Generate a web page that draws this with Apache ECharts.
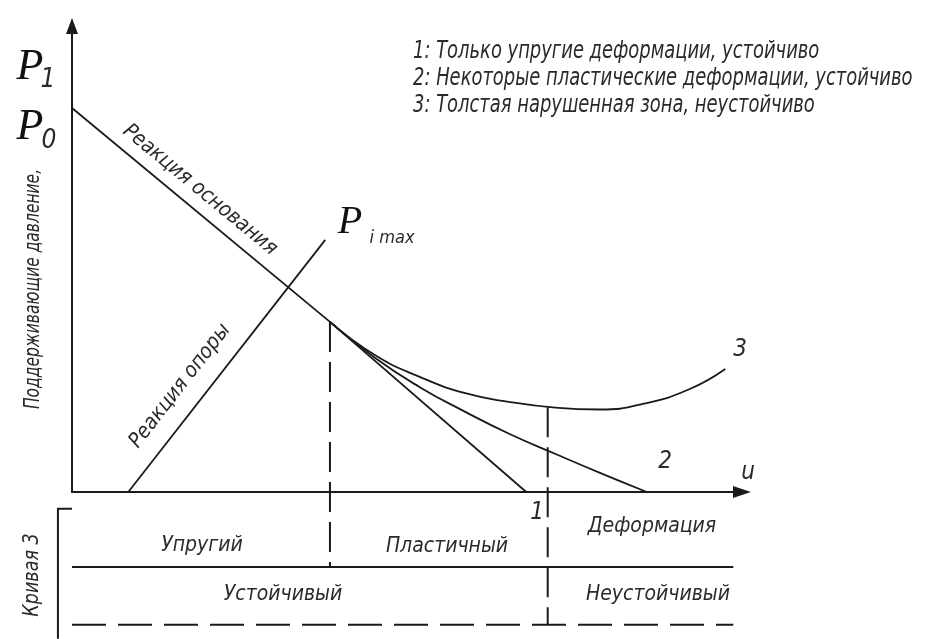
<!DOCTYPE html>
<html>
<head>
<meta charset="utf-8">
<script src="https://cdn.jsdelivr.net/npm/echarts@6/dist/echarts.min.js"></script>
<style>html,body{margin:0;padding:0;background:#fff}#c{width:938px;height:639px}</style>
</head>
<body>
<div id="c"></div>
<script>
// ---- data (schematic units: u along x 0..100, pressure along y 0..100) ----
const baseReaction = [[0, 82.4], [38.5, 36.5]];
const supportReaction = [[8.4, 0], [37.8, 54.1]];
const curve1 = [[38.5, 36.5], [67.8, 0]];
const curve2 = [[38.5, 36.5], [45.2, 28.8], [51.9, 22.5], [58.7, 17.2], [65.4, 12.4], [72.1, 8.2], [78.8, 4.1], [85.8, 0]];
const curve3 = [[38.5, 36.5], [45.2, 29.4], [51.9, 24.7], [58.7, 21.2], [65.4, 19.3], [72.1, 18.1], [78.8, 17.7], [85.5, 19.0], [92.2, 22.1], [97.5, 26.4]];
const plasticStart = [[38.5, 36.5], [38.5, -16.1]];
const unstableStart = [[71.0, 18.2], [71.0, -28.5]];
const zoneLine = [[0, -16.1], [98.7, -16.1]];
const stabilityLine = [[0, -28.5], [98.7, -28.5]];
const bracket = [[0, -3.6], [-2.1, -3.6], [-2.1, -31.5]];

const legendLines = [
  '1: Только упругие деформации, устойчиво',
  '2: Некоторые пластические деформации, устойчиво',
  '3: Толстая нарушенная зона, неустойчиво'
];

const INK = '#1a1a1a';
const TXT = '#2a2a2a';
const GOST = "'Liberation Sans Narrow','DejaVu Sans Condensed','Liberation Sans',sans-serif";
const SERIF = "'Liberation Serif','DejaVu Serif',serif";

function lineSeries(data, opts) {
  return Object.assign({
    type: 'line', data: data, symbol: 'none', clip: false, silent: true,
    lineStyle: { color: INK, width: 1.8 }
  }, opts || {});
}

const chart = echarts.init(document.getElementById('c'), null, { renderer: 'canvas' });

function t(text, x, y, size, extra) {
  extra = extra || {};
  const el = {
    type: 'text', x: x, y: y, silent: true,
    style: Object.assign({
      text: text, fill: TXT, font: 'italic ' + size + 'px ' + GOST,
      align: 'center', verticalAlign: 'middle'
    }, extra.style || {})
  };
  if (extra.rotation !== undefined) el.rotation = extra.rotation;
  if (extra.scaleX !== undefined) el.scaleX = extra.scaleX;
  return el;
}
function bigP(x, y, size) {
  return { type: 'text', x: x, y: y, silent: true,
    style: { text: 'P', font: 'italic ' + size + 'px ' + SERIF, fill: '#111', align: 'center', verticalAlign: 'middle' } };
}

const graphics = [
  // legend
  t(legendLines[0], 413, 52, 24, { style: { align: 'left' }, scaleX: 0.83 }),
  t(legendLines[1], 413, 79, 24, { style: { align: 'left' }, scaleX: 0.83 }),
  t(legendLines[2], 413, 106, 24, { style: { align: 'left' }, scaleX: 0.83 }),
  // P labels
  bigP(30, 67, 44), t('1', 48, 80, 26),
  bigP(30, 127, 44), t('0', 49, 141, 26),
  bigP(350, 222, 40), t('i max', 392, 238, 18),
  // axis titles
  t('Поддерживающие давление,', 34, 289, 21, { rotation: Math.PI / 2, scaleX: 0.82 }),
  t('Кривая 3', 33, 575, 21, { rotation: Math.PI / 2, scaleX: 0.93 }),
  // line labels
  t('Реакция основания', 200, 190, 21, { rotation: -0.69 }),
  t('Реакция опоры', 180, 386, 21, { rotation: 0.91 }),
  // curve numbers
  t('1', 537, 513, 24),
  t('2', 665, 462, 24),
  t('3', 740, 350, 24),
  t('u', 748, 473, 24),
  // zones
  t('Упругий', 202, 546, 21),
  t('Пластичный', 447, 547, 21),
  t('Деформация', 652, 527, 21),
  t('Устойчивый', 283, 595, 21),
  t('Неустойчивый', 658, 595, 21)
];

chart.setOption({
  animation: false,
  backgroundColor: '#fff',
  grid: { left: 72, right: 196, top: 26, bottom: 147, containLabel: false },
  xAxis: {
    type: 'value', min: 0, max: 100,
    axisLine: { show: true, onZero: false, symbol: ['none', 'triangle'], symbolSize: [12, 18], lineStyle: { color: INK, width: 2 } },
    axisTick: { show: false }, axisLabel: { show: false }, splitLine: { show: false }
  },
  yAxis: {
    type: 'value', min: 0, max: 100,
    axisLine: { show: true, onZero: false, symbol: ['none', 'triangle'], symbolSize: [12, 16], lineStyle: { color: INK, width: 2 } },
    axisTick: { show: false }, axisLabel: { show: false }, splitLine: { show: false }
  },
  series: [
    lineSeries(baseReaction),
    lineSeries(supportReaction),
    lineSeries(curve1),
    lineSeries(curve2, { smooth: 0.5 }),
    lineSeries(curve3, { smooth: 0.5 }),
    lineSeries(plasticStart, { lineStyle: { color: INK, width: 2, type: [30, 10] } }),
    lineSeries(unstableStart, { lineStyle: { color: INK, width: 2, type: [30, 10] } }),
    lineSeries(zoneLine, { lineStyle: { color: INK, width: 2 } }),
    lineSeries(stabilityLine, { lineStyle: { color: INK, width: 2, type: [34, 12] } })
  ],
  graphic: graphics
});

// bracket "Кривая 3" drawn through the grid's own coordinate conversion
const bracketPts = bracket.map(function (p) { return chart.convertToPixel({ gridIndex: 0 }, p); });
chart.setOption({
  graphic: graphics.concat([{
    type: 'polyline', silent: true,
    shape: { points: bracketPts },
    style: { stroke: INK, lineWidth: 2, fill: null }
  }])
});
</script>
</body>
</html>
